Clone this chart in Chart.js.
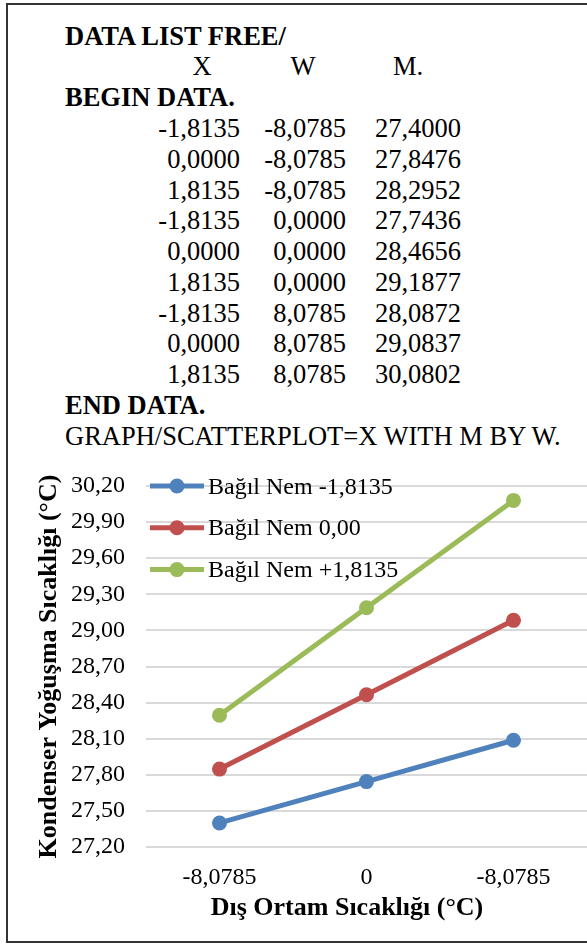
<!DOCTYPE html>
<html>
<head>
<meta charset="utf-8">
<script src="https://cdn.jsdelivr.net/npm/chart.js@4.4.1/dist/chart.umd.min.js"></script>
<style>
  html, body { margin: 0; padding: 0; background: #fff; overflow: hidden; }
  body { width: 587px; height: 945px; position: relative; font-family: "Liberation Serif", "Times New Roman", serif; color: #000; }
  #frame { position: absolute; left: 6px; top: 3px; width: 640px; height: 940px; border: 2px solid #333; box-sizing: border-box; pointer-events: none; z-index: 2; }
  #listing { position: absolute; left: 0; top: 20.7px; width: 587px; font-size: 26.5px; line-height: 30.77px; }
  .row { position: relative; height: 30.77px; white-space: nowrap; }
  .row span { position: absolute; top: 0; }
  .b { font-weight: bold; }
  #chartBox { position: absolute; left: 0; top: 455px; width: 587px; height: 488px; }
</style>
</head>
<body>
<div id="frame"></div>
<div id="listing"></div>
<div id="chartBox"><canvas id="chart" width="587" height="488"></canvas></div>

<script>
// --- data ---
const xLevels = [-1.8135, 0, 1.8135];          // Bağıl Nem (X)
const wLevels = [-8.0785, 0, 8.0785];          // Dış ortam (W)
const categories = ["-8,0785", "0", "-8,0785"]; // x axis labels as printed
const seriesNames = ["Bağıl Nem -1,8135", "Bağıl Nem 0,00", "Bağıl Nem +1,8135"];
const nemLow = [27.4000, 27.7436, 28.0872];
const nemMid = [27.8476, 28.4656, 29.0837];
const nemHigh = [28.2952, 29.1877, 30.0802];
const yMin = 27.2;
const yMax = 30.2;
const yStep = 0.3;

const xTitle = "Dış Ortam Sıcaklığı (°C)";
const yTitle = "Kondenser Yoğuşma Sıcaklığı (°C)";

const mSeries = [nemLow, nemMid, nemHigh];
const colors = ["#4F81BD", "#C0504D", "#9BBB59"];
const FONT = "'Liberation Serif', 'Times New Roman', serif";

function fmt(v, d) {
  return v.toFixed(d).replace(".", ",");
}

// --- syntax listing above the chart ---
const listing = document.getElementById("listing");

function addRow(parts) {
  const row = document.createElement("div");
  row.className = "row";
  parts.forEach((p) => {
    const s = document.createElement("span");
    s.textContent = p.text;
    if (p.bold) s.className = "b";
    if (p.left !== undefined) s.style.left = p.left + "px";
    if (p.right !== undefined) s.style.right = (587 - p.right) + "px";
    if (p.center !== undefined) {
      s.style.left = p.center + "px";
      s.style.transform = "translateX(-50%)";
    }
    row.appendChild(s);
  });
  listing.appendChild(row);
}

addRow([{ text: "DATA LIST FREE/", bold: true, left: 65 }]);
addRow([{ text: "X", center: 202 }, { text: "W", center: 303 }, { text: "M.", left: 393 }]);
addRow([{ text: "BEGIN DATA.", bold: true, left: 65 }]);
wLevels.forEach((w, wi) => {
  xLevels.forEach((x, xi) => {
    addRow([
      { text: fmt(x, 4), right: 240 },
      { text: fmt(w, 4), right: 346 },
      { text: fmt(mSeries[xi][wi], 4), right: 461 }
    ]);
  });
});
addRow([{ text: "END DATA.", bold: true, left: 65 }]);
addRow([{ text: "GRAPH/SCATTERPLOT=X WITH M BY W.", left: 65 }]);

// --- legend inside plot + axis titles ---
const overlay = {
  id: "overlay",
  afterDraw(chart) {
    const ctx = chart.ctx;
    const area = chart.chartArea;
    ctx.save();

    chart.data.datasets.forEach((ds, i) => {
      const y = area.top + i * 41.8;
      ctx.strokeStyle = ds.borderColor;
      ctx.lineWidth = 5;
      ctx.beginPath();
      ctx.moveTo(150, y);
      ctx.lineTo(204, y);
      ctx.stroke();
      ctx.fillStyle = ds.borderColor;
      ctx.beginPath();
      ctx.arc(177, y, 7.5, 0, Math.PI * 2);
      ctx.fill();
      ctx.fillStyle = "#000";
      ctx.font = "24px " + FONT;
      ctx.textAlign = "left";
      ctx.textBaseline = "alphabetic";
      ctx.fillText(ds.label, 208, y + 7.5);
    });

    ctx.font = "bold 26px " + FONT;
    ctx.fillStyle = "#000";
    ctx.textAlign = "center";
    ctx.textBaseline = "alphabetic";
    ctx.fillText(xTitle, 347, 460);

    ctx.translate(56, (area.top + area.bottom) / 2);
    ctx.rotate(-Math.PI / 2);
    ctx.fillText(yTitle, 0, 0);
    ctx.restore();
  }
};

new Chart(document.getElementById("chart"), {
  type: "line",
  data: {
    labels: categories,
    datasets: seriesNames.map((name, i) => ({
      label: name,
      data: mSeries[i],
      borderColor: colors[i],
      backgroundColor: colors[i],
      borderWidth: 5,
      pointRadius: 7.5,
      pointHoverRadius: 7.5,
      pointBorderWidth: 0,
      tension: 0,
      fill: false
    }))
  },
  options: {
    responsive: false,
    animation: false,
    devicePixelRatio: 1,
    layout: { autoPadding: false, padding: { top: 31, right: 0, left: 0, bottom: 0 } },
    plugins: {
      legend: { display: false },
      tooltip: { enabled: false }
    },
    scales: {
      x: {
        offset: true,
        grid: { display: false },
        border: { display: false },
        ticks: { color: "#000", font: { family: FONT, size: 24 }, padding: 8, maxRotation: 0 },
        afterFit: (s) => {
          s.height = 96;
          s.paddingLeft = 0;
          s.paddingRight = 0;
        }
      },
      y: {
        min: yMin,
        max: yMax,
        border: { display: false },
        grid: { color: "#D9D9D9", lineWidth: 2, drawTicks: false },
        ticks: {
          stepSize: yStep,
          color: "#000",
          font: { family: FONT, size: 24 },
          padding: 21,
          callback: (v) => fmt(v, 2)
        },
        afterFit: (s) => {
          s.width = 146;
          s.paddingTop = 0;
          s.paddingBottom = 0;
        }
      }
    }
  },
  plugins: [overlay]
});
</script>
</body>
</html>
